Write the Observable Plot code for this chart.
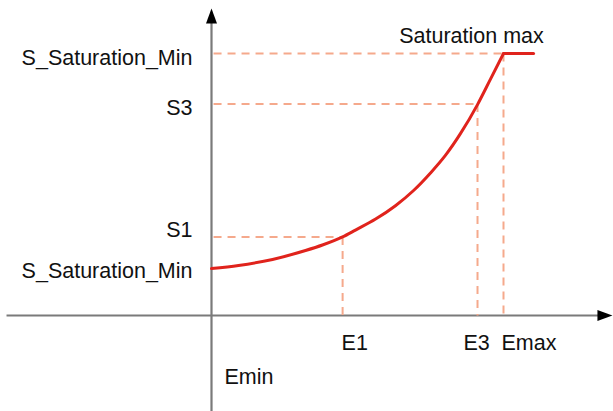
<!DOCTYPE html>
<html>
<head>
<meta charset="utf-8">
<script src="https://cdn.jsdelivr.net/npm/d3@7"></script>
<script src="https://cdn.jsdelivr.net/npm/@observablehq/plot@0.6"></script>
<style>
  html, body { margin: 0; padding: 0; background: #fff; }
  #chart { width: 613px; height: 411px; }
</style>
</head>
<body>
<div id="chart"></div>
<script>
// ---- Data ----
// Exposure axis (arbitrary units, Emin = 0, Emax = 100)
const eLabels = ["Emin", "E1", "E3", "Emax"];
const eValues = [0, 44.9, 91.1, 100];
// Saturation axis (arbitrary units, Saturation max = 100)
const sLabels = ["S_Saturation_Min", "S1", "S3", "S_Saturation_Min"];
const sValues = [17.9, 30.0, 80.7, 100];
// Curve samples
const curveE = [0, 9.25, 20.9, 32.2, 38.0, 44.9, 49.3, 56.2, 63.0, 69.2, 75.0, 80.1, 85.3, 91.1, 95.5, 100];
const curveS = [17.9, 19.1, 21.4, 24.8, 26.9, 30.0, 32.6, 36.8, 41.9, 47.7, 54.4, 61.1, 69.5, 80.5, 90.1, 100];
// Flat saturation segment
const flatE = [100, 110.3];
const flatS = [100, 100];
const topLabel = "Saturation max";
// Axis extents
const xAxisE = [-70.2, 137.3];
const yAxisS = [-36.6, 117.2];

// ---- Build ----
const curve = curveE.map((e, i) => ({e, s: curveS[i]}));
const flat = flatE.map((e, i) => ({e, s: flatS[i]}));

const arrowHead = {
  draw(ctx) {
    const L = 15, w = 5.5;
    ctx.moveTo(0, 0);
    ctx.lineTo(w, L);
    ctx.lineTo(-w, L);
    ctx.closePath();
  }
};

const dashStyle = {stroke: "#f5a98c", strokeWidth: 2, strokeDasharray: "8,6"};
const font = {fontSize: 21.5, fill: "#111", fontFamily: "Liberation Sans, Arial, sans-serif"};

// guide points: (E1,S1), (E3,S3), (Emax,Smax)
const guides = [[1, 1], [2, 2], [3, 3]].map(([ei, si]) => ({e: eValues[ei], s: sValues[si]}));

const sDy = [3, -7, 4, 5];
const sMarks = sLabels.map((label, i) => Plot.text([label], {
  x: () => eValues[0], y: () => sValues[i], text: d => d,
  textAnchor: "end", dx: -19, dy: sDy[i], ...font
}));
const eDx = [13, -1, -14, -2];
const eDy = [62, 28, 28, 28];
const eMarks = eLabels.map((label, i) => Plot.text([label], {
  x: () => eValues[i], y: () => 0, text: d => d,
  textAnchor: "start", dx: eDx[i], dy: eDy[i], ...font
}));

const chart = Plot.plot({
  width: 613,
  height: 411,
  margin: 0,
  x: {domain: [-72.26, 137.67], axis: null},
  y: {domain: [-36.64, 120.23], axis: null},
  marks: [
    // axes
    Plot.link([0], {x1: xAxisE[0], x2: xAxisE[1] - 4, y1: 0, y2: 0, stroke: "#7a7a7a", strokeWidth: 2.2}),
    Plot.link([0], {x1: 0, x2: 0, y1: yAxisS[0], y2: yAxisS[1] - 4, stroke: "#7a7a7a", strokeWidth: 2.2}),
    Plot.dot([0], {x: xAxisE[1], y: 0, symbol: arrowHead, rotate: 90, fill: "#000", stroke: "none"}),
    Plot.dot([0], {x: 0, y: yAxisS[1], symbol: arrowHead, fill: "#000", stroke: "none"}),
    // dashed guides
    Plot.link(guides, {x1: 0.7, x2: "e", y1: "s", y2: "s", ...dashStyle}),
    Plot.link(guides, {x1: "e", x2: "e", y1: "s", y2: 0, ...dashStyle}),
    // curve
    Plot.line(curve, {x: "e", y: "s", curve: "monotone-x", stroke: "#e0231c", strokeWidth: 3}),
    Plot.line(flat, {x: "e", y: "s", stroke: "#e0231c", strokeWidth: 3}),
    // labels
    ...sMarks,
    ...eMarks,
    Plot.text([topLabel], {x: () => eValues[3], y: () => sValues[3], text: d => d,
      textAnchor: "middle", dx: -32, dy: -17, ...font})
  ]
});
document.getElementById("chart").appendChild(chart);
</script>
</body>
</html>
